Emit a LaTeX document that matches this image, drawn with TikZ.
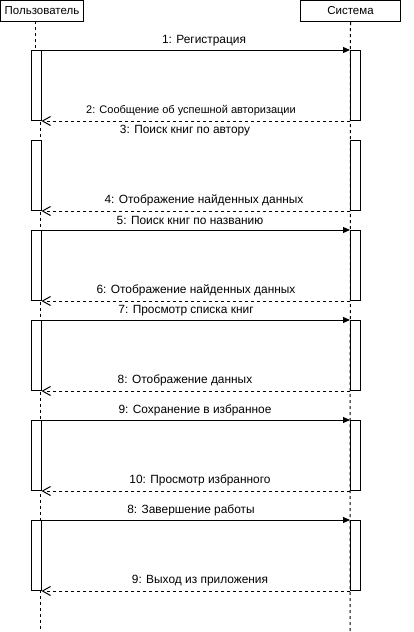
\documentclass[tikz,border=0pt]{standalone}
\usepackage{fontspec}
\setmainfont{Liberation Sans}
\usetikzlibrary{arrows.meta}
\begin{document}
\begin{tikzpicture}[x=1pt,y=-1pt,
  every node/.style={font=\fontsize{11.9}{14}\selectfont},
  head/.style={draw,line width=1pt,minimum width=83pt,minimum height=21pt,inner sep=0pt,anchor=north west,font=\fontsize{11.5}{13}\selectfont},
  life/.style={line width=1pt,dash pattern=on 3pt off 3pt},
  act/.style={draw,fill=white,line width=1pt,minimum width=10pt,minimum height=70pt,inner sep=0pt,anchor=north west},
  call/.style={line width=1pt,-{Triangle[length=7pt,width=6pt]}},
  ret/.style={line width=1pt,dash pattern=on 3pt off 3pt,-{Straight Barb[length=8pt,width=9pt,line width=1pt]}},
  lbl/.style={inner sep=0pt,anchor=center}
]
\useasboundingbox (0,0) rectangle (413,632);
\node[head] (user) at (0,0) {Пользователь};
\node[head,minimum width=100pt] (sys) at (300,0) {Система};
\coordinate (uTop) at (35,21);
\coordinate (uMid) at (35,50);
\coordinate (uLine) at (40.5,50);
\coordinate (uEnd) at (40.5,631);
\coordinate (sEnd) at (350,631);
\draw[life] (uTop) -- (uMid);
\draw[life] (uLine) -- (uEnd);
\draw[life] (sys.south) -- (sEnd);
% activation boxes
\foreach \i/\t in {1/50,2/140,3/230,4/320,5/420,6/520}{
  \node[act] (L\i) at (30.5,\t) {};
  \node[act] (R\i) at (350,\t) {};
}
% calls
\draw[call] (L1.north east) -- (R1.north west);
\draw[call] (L3.north east) -- (R3.north west);
\draw[call] (L4.north east) -- (R4.north west);
\draw[call] (L5.north east) -- (R5.north west);
\draw[call] (L6.north east) -- (R6.north west);
% returns
\foreach \i in {1,...,6}{
  \draw[ret] (R\i.south west) -- (L\i.south east);
}
% labels
\node[lbl] (m1) at (204,41) {1: Регистрация};
\node[lbl,font=\fontsize{11}{13}\selectfont] (m2) at (191,110.5) {2: Сообщение об успешной авторизации};
\node[lbl] (m3) at (185,130.5) {3: Поиск книг по автору};
\node[lbl] (m4) at (204,200.5) {4: Отображение найденных данных};
\node[lbl] (m5) at (190,220.5) {5: Поиск книг по названию};
\node[lbl] (m6) at (196,290.5) {6: Отображение найденных данных};
\node[lbl] (m7) at (186,310.5) {7: Просмотр списка книг};
\node[lbl] (m8) at (185,380.5) {8: Отображение данных};
\node[lbl] (m9) at (195,410.5) {9: Сохранение в избранное};
\node[lbl] (m10) at (200,480.5) {10: Просмотр избранного};
\node[lbl] (m11) at (191,510.5) {8: Завершение работы};
\node[lbl] (m12) at (200,580.5) {9: Выход из приложения};
\end{tikzpicture}
\end{document}
